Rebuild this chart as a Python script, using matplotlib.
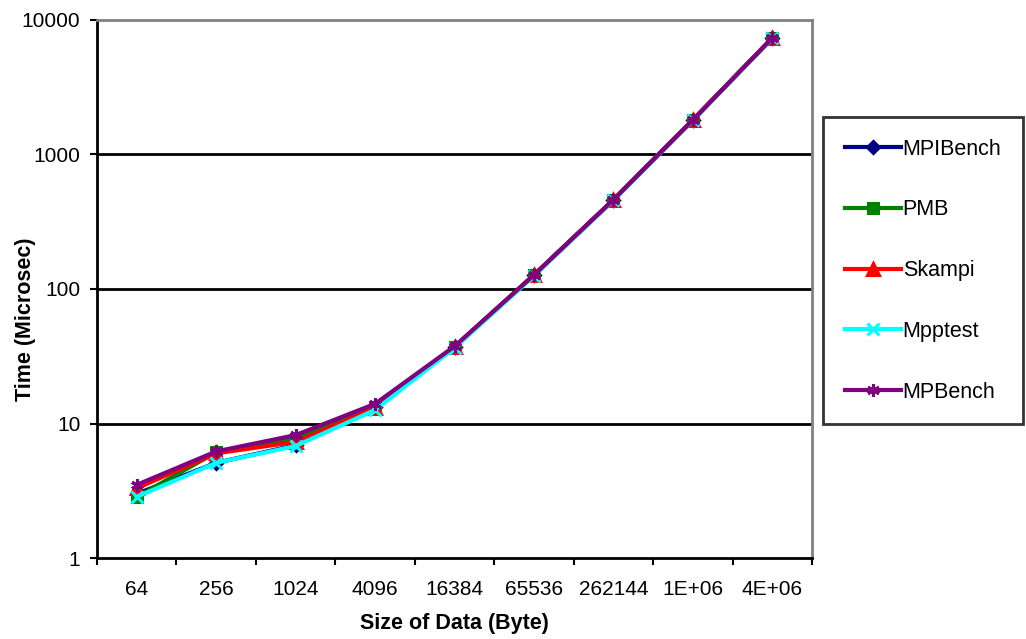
import numpy as np
import matplotlib.pyplot as plt

plt.rcParams['font.family'] = ['Liberation Sans', 'DejaVu Sans']

sizes = ['64', '256', '1024', '4096', '16384', '65536', '262144', '1E+06', '4E+06']
mpibench = [3.0, 5.1, 6.9, 13.2, 37, 127, 460, 1810, 7350]
pmb = [2.85, 6.1, 7.7, 13.3, 37, 127, 460, 1810, 7350]
skampi = [3.3, 6.0, 7.3, 13.1, 37, 127, 460, 1800, 7350]
mpptest = [2.85, 5.1, 6.8, 12.6, 36.5, 125, 455, 1790, 7300]
mpbench = [3.5, 6.2, 8.2, 14.0, 37.5, 127, 460, 1800, 7350]

series = [
    ('MPIBench', mpibench, '#000080', 'D', 6),
    ('PMB', pmb, '#008000', 's', 7),
    ('Skampi', skampi, '#FF0000', '^', 8),
    ('Mpptest', mpptest, '#00FFFF', 'x', 8),
    ('MPBench', mpbench, '#800080', (6, 2, 0), 9),
]

fig = plt.figure(figsize=(10.26, 6.39), dpi=100)
ax = fig.add_axes([97/1026, 1 - 558/639, (812-97)/1026, (558-20)/639])

x = np.arange(len(sizes))
for name, vals, col, mk, ms in series:
    ax.plot(x, vals, color=col, lw=3.0, marker=mk, ms=ms, mew=2.2,
            mfc=col, mec=col, label=name)

ax.set_yscale('log')
ax.set_ylim(1, 10000)
ax.set_xlim(-0.5, len(sizes) - 0.5)

ax.set_yticks([1, 10, 100, 1000, 10000])
ax.set_yticklabels(['1', '10', '100', '1000', '10000'], fontsize=15)
ax.yaxis.set_minor_locator(plt.NullLocator())
ax.tick_params(axis='y', direction='out', length=5, width=1.5, pad=7)

ax.set_xticks(x)
ax.set_xticklabels(sizes, fontsize=15)
ax.set_xticks(np.arange(-0.5, len(sizes)), minor=True)
ax.tick_params(axis='x', which='major', length=0, pad=16)
ax.tick_params(axis='x', which='minor', direction='out', length=5, width=1.5)

for v in [10, 100, 1000]:
    ax.axhline(v, color='black', lw=2, zorder=0)

ax.spines['left'].set_linewidth(2)
ax.spines['bottom'].set_linewidth(2)
ax.spines['top'].set_color('#808080')
ax.spines['right'].set_color('#808080')
ax.spines['top'].set_linewidth(2)
ax.spines['right'].set_linewidth(2)

ax.set_xlabel('Size of Data (Byte)', fontsize=15.5, fontweight='bold', labelpad=10)
ax.set_ylabel('Time (Microsec)', fontsize=15.5, fontweight='bold')
ax.yaxis.set_label_coords(-0.085, 0.444)

leg = fig.legend(loc='upper left', bbox_to_anchor=(823/1026, 1 - 117/639),
                 fontsize=15.5, frameon=True, fancybox=False, edgecolor='black',
                 labelspacing=1.85, handlelength=2.6, handletextpad=0.1,
                 borderpad=1.0, borderaxespad=0)
leg.get_frame().set_linewidth(2)

fig.savefig('out.png', dpi=100)
